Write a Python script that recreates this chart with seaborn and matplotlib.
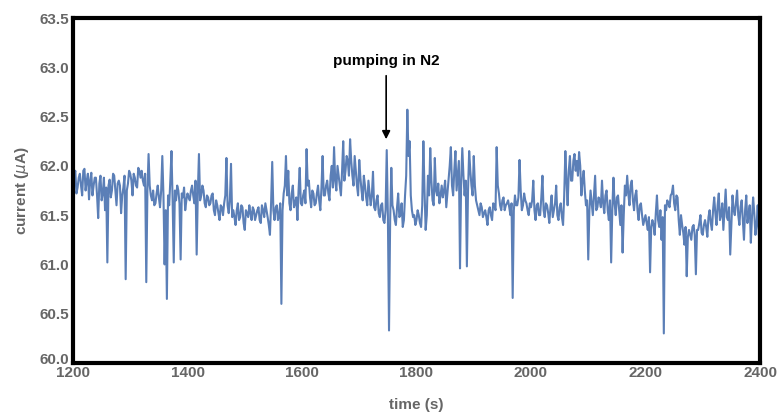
import numpy as np
import pandas as pd
import matplotlib
matplotlib.use("Agg")
import matplotlib.pyplot as plt
import seaborn as sns
from matplotlib.ticker import MultipleLocator
from matplotlib.transforms import ScaledTranslation

# samples at 1200, 1204, ... (current_a) and 1202, 1206, ... (current_b)
t_start = 1200
t_step = 4
current_a = [
    61.82, 61.95, 61.78, 61.92, 61.70, 61.97, 61.85, 61.66, 61.93, 61.80,
    61.88, 61.47, 61.90, 61.72, 61.55, 61.02, 61.86, 61.75, 61.90, 61.60,
    61.85, 61.52, 61.78, 60.85, 61.82, 61.92, 61.70, 61.88, 61.78, 61.95,
    61.95, 61.80, 60.82, 62.12, 61.70, 61.75, 61.62, 61.80, 61.58, 62.10,
    61.00, 60.65, 61.60, 62.15, 61.02, 61.65, 61.75, 61.05, 61.68, 61.55,
    61.72, 61.65, 61.80, 61.62, 61.10, 62.12, 61.70, 61.75, 61.58, 61.68,
    61.62, 61.72, 61.50, 61.60, 61.45, 61.58, 61.62, 62.08, 61.52, 62.02,
    61.55, 61.40, 61.62, 61.48, 61.58, 61.35, 61.52, 61.60, 61.45, 61.55,
    61.50, 61.58, 61.42, 61.55, 61.62, 61.48, 61.30, 62.04, 61.45, 61.60,
    61.50, 60.60, 61.72, 62.10, 61.95, 61.55, 61.80, 61.62, 61.45, 61.98,
    61.60, 61.75, 62.17, 61.85, 61.58, 61.72, 61.62, 61.80, 61.55, 62.10,
    61.70, 61.85, 61.65, 62.00, 62.19, 61.75, 61.90, 61.70, 62.25, 61.95,
    62.05, 62.27, 61.90, 62.10, 61.80, 62.06, 61.75, 61.90, 61.68, 61.85,
    61.60, 61.94, 61.55, 61.70, 61.48, 61.62, 61.42, 62.16, 60.33, 61.98,
    61.55, 61.40, 61.72, 61.50, 61.38, 61.70, 62.57, 62.25, 61.55, 61.50,
    61.45, 61.50, 61.38, 62.25, 61.35, 61.90, 62.18, 61.65, 62.08, 61.70,
    61.62, 61.80, 61.75, 61.58, 61.85, 62.19, 61.70, 62.15, 61.90, 60.96,
    62.18, 61.70, 60.98, 62.15, 61.80, 62.10, 61.65, 61.55, 61.62, 61.48,
    61.55, 61.40, 61.58, 61.45, 61.60, 62.19, 61.72, 61.55, 61.68, 61.60,
    61.65, 61.50, 60.66, 61.70, 61.60, 62.06, 61.55, 61.72, 61.62, 61.50,
    61.58, 61.85, 61.45, 61.62, 61.50, 61.90, 61.48, 61.60, 61.42, 61.70,
    61.55, 61.80, 61.45, 61.62, 61.40, 62.15, 61.60, 62.10, 61.85, 62.12,
    62.05, 62.14, 61.70, 61.95, 61.60, 61.05, 61.75, 61.50, 61.90, 61.58,
    61.65, 61.85, 61.52, 61.75, 61.45, 61.02, 61.88, 61.50, 61.70, 61.40,
    61.12, 61.80, 61.90, 61.60, 61.85, 61.55, 61.75, 61.45, 61.62, 61.40,
    61.50, 61.35, 60.92, 61.45, 61.30, 61.70, 61.38, 61.25, 60.30, 61.55,
    61.62, 61.70, 61.80, 61.55, 61.68, 61.30, 61.40, 61.20, 60.88, 61.35,
    61.25, 61.40, 60.90, 61.35, 61.50, 61.30, 61.45, 61.28, 61.55, 61.35,
    61.68, 61.40, 61.72, 61.50, 61.35, 61.76, 61.45, 61.10, 61.70, 61.50,
    61.75, 61.40, 61.65, 61.25, 61.70, 61.50, 61.22, 61.68, 61.30, 61.60, 61.18,
]
current_b = [
    61.90, 61.72, 61.88, 61.80, 61.95, 61.75, 61.92, 61.85, 61.70, 61.88,
    61.70, 61.82, 61.65, 61.88, 61.78, 61.80, 61.68, 61.92, 61.75, 61.82,
    61.80, 61.70, 61.90, 61.75, 61.95, 61.85, 61.92, 61.80, 61.98, 61.88,
    61.85, 61.92, 61.75, 61.80, 61.65, 61.60, 61.72, 61.68, 61.75, 61.70,
    61.55, 61.70, 61.85, 61.65, 61.75, 61.80, 61.62, 61.72, 61.78, 61.65,
    61.68, 61.75, 61.70, 61.85, 61.72, 61.65, 61.80, 61.62, 61.70, 61.60,
    61.70, 61.55, 61.65, 61.52, 61.60, 61.50, 61.70, 61.60, 61.65, 61.48,
    61.48, 61.55, 61.45, 61.60, 61.42, 61.55, 61.48, 61.52, 61.58, 61.45,
    61.55, 61.45, 61.60, 61.48, 61.55, 61.40, 61.62, 61.55, 61.58, 61.45,
    61.62, 61.55, 61.80, 61.70, 61.62, 61.72, 61.58, 61.68, 61.75, 61.62,
    61.70, 61.62, 61.80, 61.68, 61.75, 61.60, 61.72, 61.65, 61.78, 61.70,
    61.80, 61.72, 61.90, 61.78, 61.85, 62.00, 61.80, 61.95, 61.85, 62.10,
    61.90, 62.05, 61.80, 61.95, 61.70, 61.88, 61.65, 61.80, 61.60, 61.72,
    61.70, 61.58, 61.65, 61.52, 61.60, 61.45, 61.55, 61.50, 61.45, 61.60,
    61.45, 61.58, 61.48, 61.62, 61.45, 61.90, 62.10, 61.70, 61.48, 61.40,
    61.55, 61.42, 61.60, 61.75, 61.50, 61.70, 61.85, 61.60, 61.75, 61.82,
    61.70, 61.68, 61.85, 61.72, 62.00, 61.80, 61.95, 61.75, 62.05, 61.85,
    61.90, 61.85, 61.75, 61.95, 61.70, 61.80, 61.60, 61.50, 61.58, 61.52,
    61.48, 61.55, 61.50, 61.62, 61.55, 61.80, 61.60, 61.65, 61.55, 61.62,
    61.58, 61.62, 61.55, 61.60, 61.68, 61.75, 61.60, 61.65, 61.55, 61.62,
    61.65, 61.55, 61.60, 61.50, 61.68, 61.55, 61.62, 61.52, 61.58, 61.48,
    61.62, 61.50, 61.58, 61.48, 61.70, 61.85, 61.95, 61.85, 62.05, 61.95,
    61.90, 62.00, 61.85, 61.75, 61.65, 61.55, 61.62, 61.70, 61.55, 61.68,
    61.58, 61.62, 61.70, 61.55, 61.65, 61.55, 61.62, 61.68, 61.55, 61.60,
    61.50, 61.70, 61.72, 61.80, 61.65, 61.70, 61.55, 61.60, 61.50, 61.45,
    61.42, 61.48, 61.38, 61.40, 61.52, 61.45, 61.55, 61.48, 61.60, 61.65,
    61.58, 61.72, 61.62, 61.70, 61.45, 61.50, 61.32, 61.38, 61.28, 61.30,
    61.38, 61.30, 61.35, 61.42, 61.32, 61.40, 61.38, 61.48, 61.42, 61.55,
    61.52, 61.60, 61.45, 61.62, 61.55, 61.48, 61.58, 61.40, 61.55, 61.62,
    61.50, 61.58, 61.45, 61.55, 61.42, 61.60, 61.48, 61.52, 61.40, 61.30,
]
time_a = t_start + t_step * np.arange(len(current_a))
time_b = t_start + t_step / 2 + t_step * np.arange(len(current_b))

x_ticks = [1200, 1400, 1600, 1800, 2000, 2200, 2400]
y_ticks = [60.0, 60.5, 61.0, 61.5, 62.0, 62.5, 63.0, 63.5]
annot_text = "pumping in N2"
annot_x = 1747
annot_text_y = 62.99
annot_tip_y = 62.27

df = pd.concat([
    pd.DataFrame({"time": time_a, "current": current_a}),
    pd.DataFrame({"time": time_b, "current": current_b}),
]).sort_values("time").reset_index(drop=True)

sns.set_style("white")
plt.rcParams["font.family"] = ["Liberation Sans", "DejaVu Sans"]

fig = plt.figure(figsize=(7.78, 4.12), dpi=100)
ax = fig.add_axes([73 / 778, 49 / 412, 687 / 778, 345 / 412])

sns.lineplot(data=df, x="time", y="current", ax=ax, color="#5b7fb7",
             linewidth=1.5, sort=True)

ax.set_xlim(1200, 2400)
ax.set_ylim(60.0, 63.5)
ax.set_xticks(x_ticks)
ax.set_yticks(y_ticks)
ax.set_yticklabels([f"{v:.1f}" for v in y_ticks])
ax.xaxis.set_minor_locator(MultipleLocator(50))
ax.yaxis.set_minor_locator(MultipleLocator(0.1))

gray = "#666666"
ax.tick_params(axis="both", which="major", direction="in", length=3, width=1.2,
               color=gray, labelsize=11, labelcolor=gray)
ax.tick_params(axis="x", which="major", pad=2)
ax.tick_params(axis="y", which="major", pad=3)
ax.tick_params(axis="both", which="minor", direction="in", length=2, width=1,
               color=gray)
for lab in ax.get_xticklabels() + ax.get_yticklabels():
    lab.set_fontweight("bold")
# lift the lowest y label a little, as in the reference
ylab0 = ax.get_yticklabels()[0]
ylab0.set_transform(ylab0.get_transform() + ScaledTranslation(0, 4 / 100, fig.dpi_scale_trans))

for sp in ax.spines.values():
    sp.set_visible(True)
    sp.set_color("black")
    sp.set_linewidth(3)

ax.set_xlabel("time (s)", fontsize=11, fontweight="bold", color=gray, labelpad=13)
ax.set_ylabel("current ($\\mu$A)", fontsize=11, fontweight="bold", color=gray, labelpad=6)

ax.annotate(annot_text, xy=(annot_x, annot_tip_y), xytext=(annot_x, annot_text_y),
            ha="center", va="bottom", fontsize=11, fontweight="bold", color="black",
            arrowprops=dict(arrowstyle="-|>", color="black", lw=1.2,
                            mutation_scale=12, shrinkA=3, shrinkB=0))

fig.savefig("out.png", dpi=100)
